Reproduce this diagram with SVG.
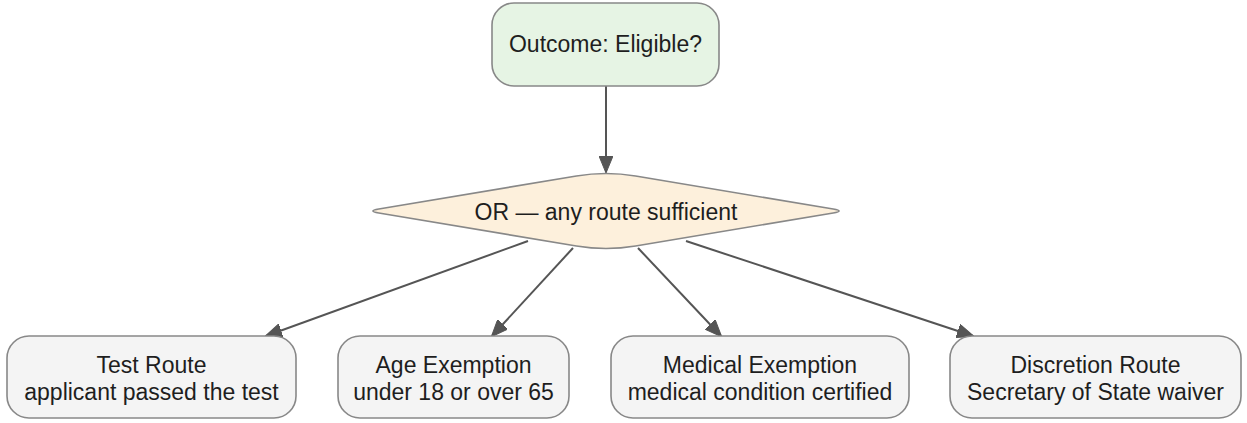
<svg xmlns="http://www.w3.org/2000/svg" width="1247" height="423" viewBox="0 0 1247 423">
<style>
  .node { stroke: #888888; stroke-width: 1.6; }
  .root { fill: #e6f4e4; }
  .gate { fill: #fdf0dc; }
  .leaf { fill: #f4f4f4; }
  text { font-family: "Liberation Sans", Arial, Helvetica, sans-serif; font-size: 23px; fill: #1e1e1e; text-anchor: middle; }
  .edge { stroke: #555555; stroke-width: 2; fill: none; marker-end: url(#arrow); }
</style>
<defs>
  <marker id="arrow" viewBox="0 0 17 14" refX="16" refY="7" markerWidth="17" markerHeight="14" markerUnits="userSpaceOnUse" orient="auto">
    <path d="M0,0 L17,7 L0,14 Z" fill="#555555" stroke="#555555" stroke-width="1"/>
  </marker>
</defs>
<g id="connectors">
  <path class="edge" d="M606,86 L606,172"/>
  <path class="edge" d="M528,241 L266,336"/>
  <path class="edge" d="M573,248 L492,336"/>
  <path class="edge" d="M638,248 L721,336"/>
  <path class="edge" d="M686,241 L973,336"/>
</g>
<g id="outcome">
  <rect class="node root" x="492" y="3" width="227" height="83" rx="22" ry="22"/>
  <text x="605.5" y="52">Outcome: Eligible?</text>
</g>
<g id="or-gate">
  <path class="node gate" d="M378.8,209 L576.4,176 Q606,171 635.6,176 L833.2,209 Q845,211 833.2,213 L635.6,246 Q606,251 576.4,246 L378.8,213 Q367,211 378.8,209 Z"/>
  <text x="606" y="220">OR — any route sufficient</text>
</g>
<g id="test-route">
  <rect class="node leaf" x="7" y="336" width="289" height="82" rx="22" ry="22"/>
  <text x="151.5" y="373">Test Route</text>
  <text x="151.5" y="400">applicant passed the test</text>
</g>
<g id="age-exemption">
  <rect class="node leaf" x="338" y="336" width="231" height="82" rx="22" ry="22"/>
  <text x="453.5" y="373">Age Exemption</text>
  <text x="453.5" y="400">under 18 or over 65</text>
</g>
<g id="medical-exemption">
  <rect class="node leaf" x="611" y="336" width="298" height="82" rx="22" ry="22"/>
  <text x="760" y="373">Medical Exemption</text>
  <text x="760" y="400">medical condition certified</text>
</g>
<g id="discretion-route">
  <rect class="node leaf" x="950" y="336" width="291" height="82" rx="22" ry="22"/>
  <text x="1095.5" y="373">Discretion Route</text>
  <text x="1095.5" y="400">Secretary of State waiver</text>
</g>
</svg>
